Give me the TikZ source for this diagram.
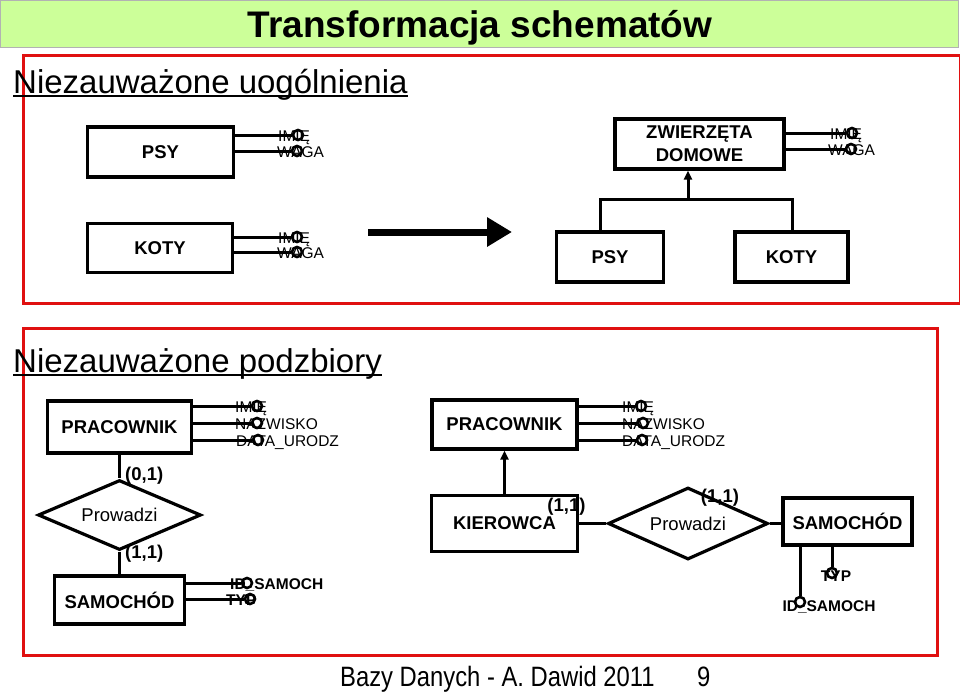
\documentclass[tikz,border=0pt]{standalone}
\usepackage{fontspec}
\setmainfont{Liberation Sans}
\usetikzlibrary{arrows.meta,shapes.geometric}
\definecolor{barg}{HTML}{CCFF99}
\definecolor{frame}{HTML}{E01010}
\begin{document}
\begin{tikzpicture}[x=1pt,y=-1pt,
 ent/.style={draw, line width=3.2pt, inner sep=0pt, font=\fontsize{18.5}{23}\selectfont\bfseries, align=center},
 rel/.style={draw, diamond, aspect=2.3, line width=3.2pt, inner sep=0pt, font=\fontsize{18.5}{21}\selectfont},
 att/.style={draw, circle, line width=2.6pt, minimum size=10pt, inner sep=0pt},
 attl/.style={anchor=base west, inner sep=0pt, font=\fontsize{15.5}{17}\selectfont},
 attb/.style={attl, font=\fontsize{15.5}{17}\selectfont\bfseries},
 card/.style={inner sep=0pt, font=\fontsize{18.5}{21}\selectfont\bfseries},
 lnk/.style={line width=3pt},
 redframe/.style={draw=frame, line width=3pt},
 head/.style={anchor=base west, inner sep=0pt, font=\fontsize{33}{38}\selectfont}]
\useasboundingbox (0,0) rectangle (960,691);
\fill[white] (0,0) rectangle (960,691);
% title bar
\filldraw[fill=barg, draw=gray!60, line width=1pt] (0,0) rectangle (958,47);
\node[font=\fontsize{37}{40}\selectfont\bfseries, anchor=base, inner sep=0pt] (title) at (480,37) {Transformacja schematów};
% frames
\draw[redframe] (23,55) rectangle (960,303);
\draw[redframe] (23,328) rectangle (937,655);
% headings
\node[head] (h1) at (13,93) {Niezauważone uogólnienia};
\draw[line width=1.8pt] ([yshift=-3pt]h1.base west) -- ([yshift=-3pt]h1.base east);
\node[head] (h2) at (13,372) {Niezauważone podzbiory};
\draw[line width=1.8pt] ([yshift=-3pt]h2.base west) -- ([yshift=-3pt]h2.base east);

% ---------- panel 1 ----------
\node[ent, minimum width=146pt, minimum height=50pt] (psy1) at (160.5,152) {PSY};
\node[att] (psy1a) at (298,135) {};
\node[att] (psy1b) at (297,151) {};
\draw[lnk] (psy1.east |- psy1a) -- (psy1a);
\draw[lnk] (psy1.east |- psy1b) -- (psy1b);
\node[attl] (psy1at) at (278,141) {IMIĘ};
\node[attl] (psy1bt) at (277,157) {WAGA};

\node[ent, minimum width=145pt, minimum height=49pt] (koty1) at (160,248) {KOTY};
\node[att] (koty1a) at (297,237) {};
\node[att] (koty1b) at (297,252) {};
\draw[lnk] (koty1.east |- koty1a) -- (koty1a);
\draw[lnk] (koty1.east |- koty1b) -- (koty1b);
\node[attl] (koty1at) at (278,243) {IMIĘ};
\node[attl] (koty1bt) at (277,258) {WAGA};

\coordinate (arA) at (368,232);
\coordinate (arB) at (512,232);
\draw[line width=7pt, -{Triangle[length=25pt,width=28pt]}] (arA) -- (arB);

\node[ent, minimum width=169pt, minimum height=50pt] (zw) at (699.5,144) {ZWIERZĘTA\\DOMOWE};
\node[att] (zwa) at (852,133) {};
\node[att] (zwb) at (851,149) {};
\draw[lnk] (zw.east |- zwa) -- (zwa);
\draw[lnk] (zw.east |- zwb) -- (zwb);
\node[attl] (zwat) at (830,139) {IMIĘ};
\node[attl] (zwbt) at (828,155) {WAGA};

\node[ent, minimum width=107pt, minimum height=50pt] (psy2) at (610,257) {PSY};
\node[ent, minimum width=113pt, minimum height=50pt] (koty2) at (791.5,257) {KOTY};
\coordinate (gm) at (688,199);
\coordinate (gl) at (600,199);
\coordinate (gr) at (792,199);
\draw[lnk, -{Triangle[length=9pt,width=8pt]}] (gm) -- (gm |- zw.south);
\draw[lnk] (psy2.north -| gl) -- (gl) -- (gr) -- (koty2.north -| gr);

% ---------- panel 2 left ----------
\node[ent, minimum width=144pt, minimum height=52pt] (prac1) at (119.5,427) {PRACOWNIK};
\node[att] (prac1a) at (257,406) {};
\node[att] (prac1b) at (257,423) {};
\node[att] (prac1c) at (258,440) {};
\draw[lnk] (prac1.east |- prac1a) -- (prac1a);
\draw[lnk] (prac1.east |- prac1b) -- (prac1b);
\draw[lnk] (prac1.east |- prac1c) -- (prac1c);
\node[attl] (prac1at) at (235,412) {IMIĘ};
\node[attl] (prac1bt) at (235,429) {NAZWISKO};
\node[attl] (prac1ct) at (236,446) {DATA\_URODZ};

\node[rel, minimum width=163pt, minimum height=70pt] (prow1) at (119.5,515) {Prowadzi};
\node[ent, minimum width=130pt, minimum height=48pt] (sam1) at (119.5,600) {SAMOCHÓD};
\draw[lnk] (prac1.south) -- (prow1.north);
\draw[lnk] (prow1.south) -- (sam1.north);
\node[card, anchor=west] (c01) at (125,475.5) {(0,1)};
\node[card, anchor=west] (c11a) at (125,554) {(1,1)};
\node[att] (sam1a) at (247,583) {};
\node[att] (sam1b) at (250,599) {};
\draw[lnk] (sam1.east |- sam1a) -- (sam1a);
\draw[lnk] (sam1.east |- sam1b) -- (sam1b);
\node[attb] (sam1at) at (230,589) {ID\_SAMOCH};
\node[attb] (sam1bt) at (226,605) {TYP};

% ---------- panel 2 right ----------
\node[ent, minimum width=145pt, minimum height=49pt] (prac2) at (504.5,424.5) {PRACOWNIK};
\node[att] (prac2a) at (641,406) {};
\node[att] (prac2b) at (643,423) {};
\node[att] (prac2c) at (642,440) {};
\draw[lnk] (prac2.east |- prac2a) -- (prac2a);
\draw[lnk] (prac2.east |- prac2b) -- (prac2b);
\draw[lnk] (prac2.east |- prac2c) -- (prac2c);
\node[attl] (prac2at) at (622,412) {IMIĘ};
\node[attl] (prac2bt) at (622,429) {NAZWISKO};
\node[attl] (prac2ct) at (622,446) {DATA\_URODZ};

\node[ent, minimum width=146pt, minimum height=56pt] (kier) at (504.5,523.5) {KIEROWCA};
\draw[lnk, -{Triangle[length=9pt,width=8pt]}] (kier.north) -- (prac2.south);
\node[rel, minimum width=160pt, minimum height=72pt] (prow2) at (688,523.5) {Prowadzi};
\node[ent, minimum width=129pt, minimum height=47pt] (sam2) at (847.5,521.5) {SAMOCHÓD};
\draw[lnk] (kier.east) -- (prow2.west);
\draw[lnk] (prow2.east) -- (prow2.east -| sam2.west);
\node[card] (c11b) at (566.5,507) {(1,1)};
\node[card] (c11c) at (720,498) {(1,1)};
\node[att] (sam2a) at (800,602) {};
\node[att] (sam2b) at (832,573) {};
\draw[lnk] (sam2.south -| sam2a) -- (sam2a);
\draw[lnk] (sam2.south -| sam2b) -- (sam2b);
\node[attb, anchor=center] (sam2bt) at (836,576) {TYP};
\node[attb, anchor=center] (sam2at) at (829,607) {ID\_SAMOCH};

% footer
\node[anchor=base west, inner sep=0pt, font=\fontsize{28}{30}\selectfont] (foot) at (340,686) {\scalebox{0.85}[1]{Bazy Danych - A. Dawid 2011}};
\node[anchor=base west, inner sep=0pt, font=\fontsize{28}{30}\selectfont] (pg) at (697,686) {\scalebox{0.85}[1]{9}};
\end{tikzpicture}
\end{document}
